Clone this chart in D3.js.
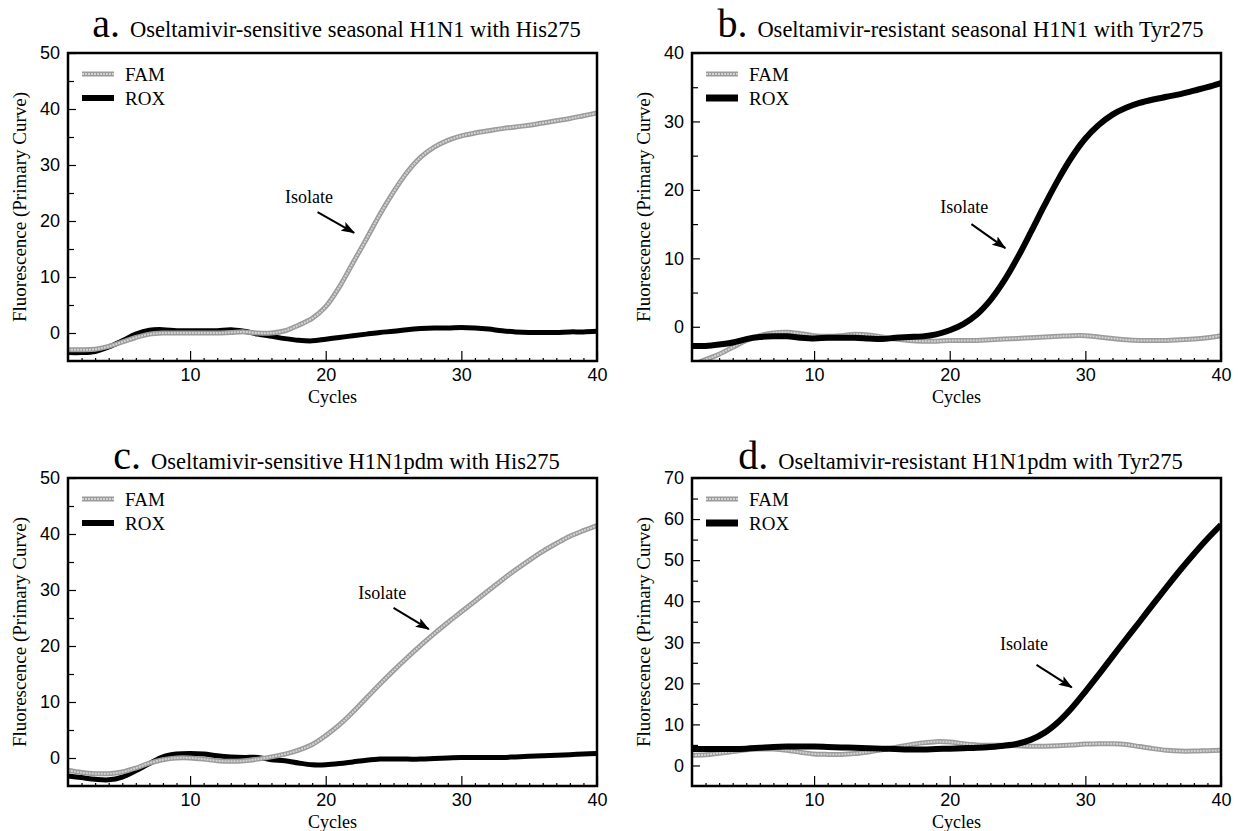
<!DOCTYPE html>
<html>
<head>
<meta charset="utf-8">
<script src="https://cdn.jsdelivr.net/npm/d3@7/dist/d3.min.js"></script>
<style>
body { margin: 0; background: #fff; }
svg { display: block; }
.tick text { font-family: "Liberation Sans Narrow", "Arial Narrow", "Liberation Sans", Arial, sans-serif; font-size: 18px; fill: #000; }
.tick line { stroke: #000; stroke-width: 1.2; }
.serif { font-family: "Liberation Serif", "Times New Roman", serif; fill: #000; }
</style>
</head>
<body>
<script>
// cycle numbers (x)
var cycles = [1,2,3,4,5,6,7,8,9,10,11,12,13,14,15,16,17,18,19,20,
              21,22,23,24,25,26,27,28,29,30,31,32,33,34,35,36,37,38,39,40];

// a. sensitive seasonal H1N1
var famA = [-3,-3,-2.9,-2.4,-1.6,-0.8,-0.2,0,0,0, 0,0,0.1,0.2,0,0,0.4,1.4,2.6,4.7,
            8.2,12.5,16.8,21.2,25.2,28.7,31.4,33.2,34.4,35.2, 35.7,36.1,36.5,36.8,37.1,37.5,37.9,38.3,38.8,39.3];
var roxA = [-3.5,-3.5,-3.3,-2.5,-1.4,-0.2,0.5,0.6,0.4,0.4, 0.4,0.4,0.6,0.3,-0.2,-0.6,-1,-1.3,-1.4,-1.1,
            -0.8,-0.5,-0.2,0.1,0.3,0.6,0.8,0.9,0.9,1, 0.9,0.7,0.4,0.2,0.1,0.1,0.1,0.2,0.2,0.3];
// b. resistant seasonal H1N1
var famB = [-5.6,-4.8,-4,-3,-2,-1.3,-0.9,-0.8,-1,-1.3, -1.4,-1.3,-1.1,-1.2,-1.5,-1.8,-2,-2.1,-2.1,-2,
            -2,-2,-1.9,-1.8,-1.7,-1.6,-1.5,-1.4,-1.3,-1.3, -1.5,-1.7,-1.9,-2,-2,-2,-1.9,-1.8,-1.6,-1.3];
var roxB = [-2.8,-2.8,-2.6,-2.3,-1.8,-1.5,-1.4,-1.4,-1.6,-1.7, -1.6,-1.6,-1.6,-1.7,-1.8,-1.6,-1.5,-1.4,-1.1,-0.5,
            0.4,1.8,3.9,6.7,10.1,13.9,17.8,21.5,24.8,27.5, 29.5,31,32,32.7,33.2,33.6,34,34.5,35,35.6];
// c. sensitive H1N1pdm
var famC = [-2.2,-2.6,-2.8,-2.8,-2.5,-1.8,-0.9,-0.3,0,0, -0.2,-0.5,-0.6,-0.5,-0.2,0.2,0.7,1.4,2.4,4,
            5.9,8.2,10.7,13.2,15.6,17.9,20.1,22.2,24.2,26.1, 28,29.9,31.8,33.6,35.3,36.9,38.3,39.6,40.6,41.5];
var roxC = [-3.2,-3.5,-3.8,-3.9,-3.4,-2.3,-1,0.2,0.7,0.8, 0.7,0.4,0.2,0.1,0.1,-0.3,-0.5,-0.9,-1.2,-1.2,
            -1,-0.7,-0.4,-0.2,-0.2,-0.2,-0.2,-0.1,0,0.1, 0.1,0.1,0.1,0.2,0.3,0.4,0.5,0.6,0.7,0.8];
// d. resistant H1N1pdm
var famD = [2.5,2.6,3,3.4,3.8,4,4,3.7,3.2,2.8, 2.7,2.7,2.9,3.3,3.8,4.4,5,5.5,5.8,5.7,
            5.3,5,4.9,4.9,4.8,4.7,4.7,4.8,5,5.2, 5.3,5.3,5.1,4.6,4.1,3.7,3.5,3.5,3.6,3.7];
var roxD = [4,4,4,4,4.1,4.3,4.5,4.6,4.6,4.6, 4.5,4.4,4.3,4.2,4.1,4,3.9,3.9,4,4.1,
            4.2,4.3,4.5,4.8,5.3,6.3,8,10.6,14,18, 22.2,26.5,30.8,35,39.3,43.5,47.6,51.5,55.2,58.6];

var panelLetters = ["a.", "b.", "c.", "d."];
var panelTitles = [
  "Oseltamivir-sensitive seasonal H1N1 with His275",
  "Oseltamivir-resistant seasonal H1N1 with Tyr275",
  "Oseltamivir-sensitive H1N1pdm with His275",
  "Oseltamivir-resistant H1N1pdm with Tyr275"
];
var yMin = -5;
var yMaxes = [50, 40, 50, 70];
var xMajorTicks = [10, 20, 30, 40];
var seriesNames = ["FAM", "ROX"];
var famSeries = [famA, famB, famC, famD];
var roxSeries = [roxA, roxB, roxC, roxD];
// "Isolate" annotation, in data units (cycle, fluorescence)
var isolateText = [[17.0, 23.2], [19.3, 16.6], [22.4, 28.4], [23.7, 28.2]];
var arrowFrom = [[19.4, 21.6], [21.6, 15.0], [25.0, 26.8], [26.4, 24.5]];
var arrowTo = [[22.1, 17.9], [24.1, 11.5], [27.6, 23.0], [29.0, 19.0]];

var width = 1239, height = 831;
var colLeft = [68, 692], rowTop = [53, 478];
var plotW = 529, plotH = 308;

var svg = d3.select("body").append("svg")
    .attr("width", width)
    .attr("height", height);

var defs = svg.append("defs");
defs.append("marker")
    .attr("id", "arrow")
    .attr("markerUnits", "userSpaceOnUse")
    .attr("markerWidth", 14).attr("markerHeight", 10)
    .attr("refX", 13).attr("refY", 5)
    .attr("orient", "auto")
  .append("path")
    .attr("d", "M0,0 L14,5 L0,10 L3,5 Z")
    .attr("fill", "#000");

// draw a FAM style line (grey, slightly textured) or ROX (black)
function drawSeries(g, pts, kind, w, line) {
  if (kind === "FAM") {
    g.append("path").datum(pts).attr("d", line)
      .attr("fill", "none").attr("stroke", "#9b9b9b").attr("stroke-width", 5);
    g.append("path").datum(pts).attr("d", line)
      .attr("fill", "none").attr("stroke", "#d4d4d4").attr("stroke-width", 2)
      .attr("stroke-dasharray", "2,1");
  } else {
    g.append("path").datum(pts).attr("d", line)
      .attr("fill", "none").attr("stroke", "#000").attr("stroke-width", w);
  }
}

panelLetters.forEach(function(letter, i) {
  var left = colLeft[i % 2], top = rowTop[Math.floor(i / 2)];
  var x = d3.scaleLinear().domain([1, 40]).range([0, plotW]);
  var y = d3.scaleLinear().domain([yMin, yMaxes[i]]).range([plotH, 0]);
  var g = svg.append("g").attr("transform", "translate(" + left + "," + top + ")");

  defs.append("clipPath").attr("id", "clip" + i)
    .append("rect").attr("width", plotW).attr("height", plotH);

  // title
  var t = g.append("text").attr("class", "serif")
    .attr("x", plotW / 2 + 4)
    .attr("y", i < 2 ? -16 : -9)
    .attr("text-anchor", "middle");
  t.append("tspan").attr("font-size", 40).text(letter + " ");
  t.append("tspan").attr("font-size", 22.5).text(panelTitles[i]);

  // axes (ticks point inward)
  var yMajor = d3.range(0, yMaxes[i] + 1, 10);
  var yMinor = d3.range(5, yMaxes[i], 10);
  g.append("g").call(d3.axisLeft(y).tickValues(yMajor).tickSize(-8).tickPadding(8).tickFormat(d3.format("d")))
    .call(function(s) { s.select(".domain").remove(); });
  g.append("g").call(d3.axisLeft(y).tickValues(yMinor).tickSize(-6).tickFormat(""))
    .call(function(s) { s.select(".domain").remove(); });

  var xMinor = cycles.filter(function(c) { return c > 1 && c < 40 && xMajorTicks.indexOf(c) < 0; });
  g.append("g").attr("transform", "translate(0," + plotH + ")")
    .call(d3.axisBottom(x).tickValues(xMajorTicks).tickSize(-10).tickPadding(7).tickFormat(d3.format("d")))
    .call(function(s) { s.select(".domain").remove(); });
  g.append("g").attr("transform", "translate(0," + plotH + ")")
    .call(d3.axisBottom(x).tickValues(xMinor).tickSize(-3).tickFormat(""))
    .call(function(s) { s.select(".domain").remove(); });

  // axis titles
  g.append("text").attr("class", "serif")
    .attr("transform", "translate(-49," + (plotH / 2) + ") rotate(-90)")
    .attr("text-anchor", "middle").attr("dy", "0.35em")
    .attr("font-size", 19)
    .text("Fluorescence (Primary Curve)");
  g.append("text").attr("class", "serif")
    .attr("x", plotW / 2).attr("y", plotH + 42)
    .attr("text-anchor", "middle")
    .attr("font-size", 18)
    .text("Cycles");

  // curves
  var line = d3.line()
    .x(function(d) { return x(d[0]); })
    .y(function(d) { return y(d[1]); })
    .curve(d3.curveCatmullRom.alpha(0.5));
  var plot = g.append("g").attr("clip-path", "url(#clip" + i + ")");
  var fam = cycles.map(function(c, k) { return [c, famSeries[i][k]]; });
  var rox = cycles.map(function(c, k) { return [c, roxSeries[i][k]]; });
  var roxW = (i === 1 || i === 3) ? 6 : 5;
  if (i === 1 || i === 3) {
    drawSeries(plot, fam, "FAM", 5, line);
    drawSeries(plot, rox, "ROX", roxW, line);
  } else {
    drawSeries(plot, rox, "ROX", roxW, line);
    drawSeries(plot, fam, "FAM", 5, line);
  }

  // frame
  g.append("rect").attr("width", plotW).attr("height", plotH)
    .attr("fill", "none").attr("stroke", "#000").attr("stroke-width", 2.5);

  // legend
  seriesNames.forEach(function(name, k) {
    var ly = 21 + k * 24;
    var seg = [[0, 0], [0, 0]];
    var lg = g.append("g").attr("transform", "translate(14," + ly + ")");
    var ll = d3.line().x(function(d, j) { return j * 32; }).y(0);
    drawSeries(lg, seg, name, roxW + 1, ll);
    lg.append("text").attr("class", "serif")
      .attr("x", 43).attr("dy", "0.35em")
      .attr("font-size", 19)
      .text(name);
  });

  // Isolate annotation
  g.append("text").attr("class", "serif")
    .attr("x", x(isolateText[i][0])).attr("y", y(isolateText[i][1]))
    .attr("font-size", 18)
    .text("Isolate");
  g.append("line")
    .attr("x1", x(arrowFrom[i][0])).attr("y1", y(arrowFrom[i][1]))
    .attr("x2", x(arrowTo[i][0])).attr("y2", y(arrowTo[i][1]))
    .attr("stroke", "#000").attr("stroke-width", 2)
    .attr("marker-end", "url(#arrow)");
});
</script>
</body>
</html>
